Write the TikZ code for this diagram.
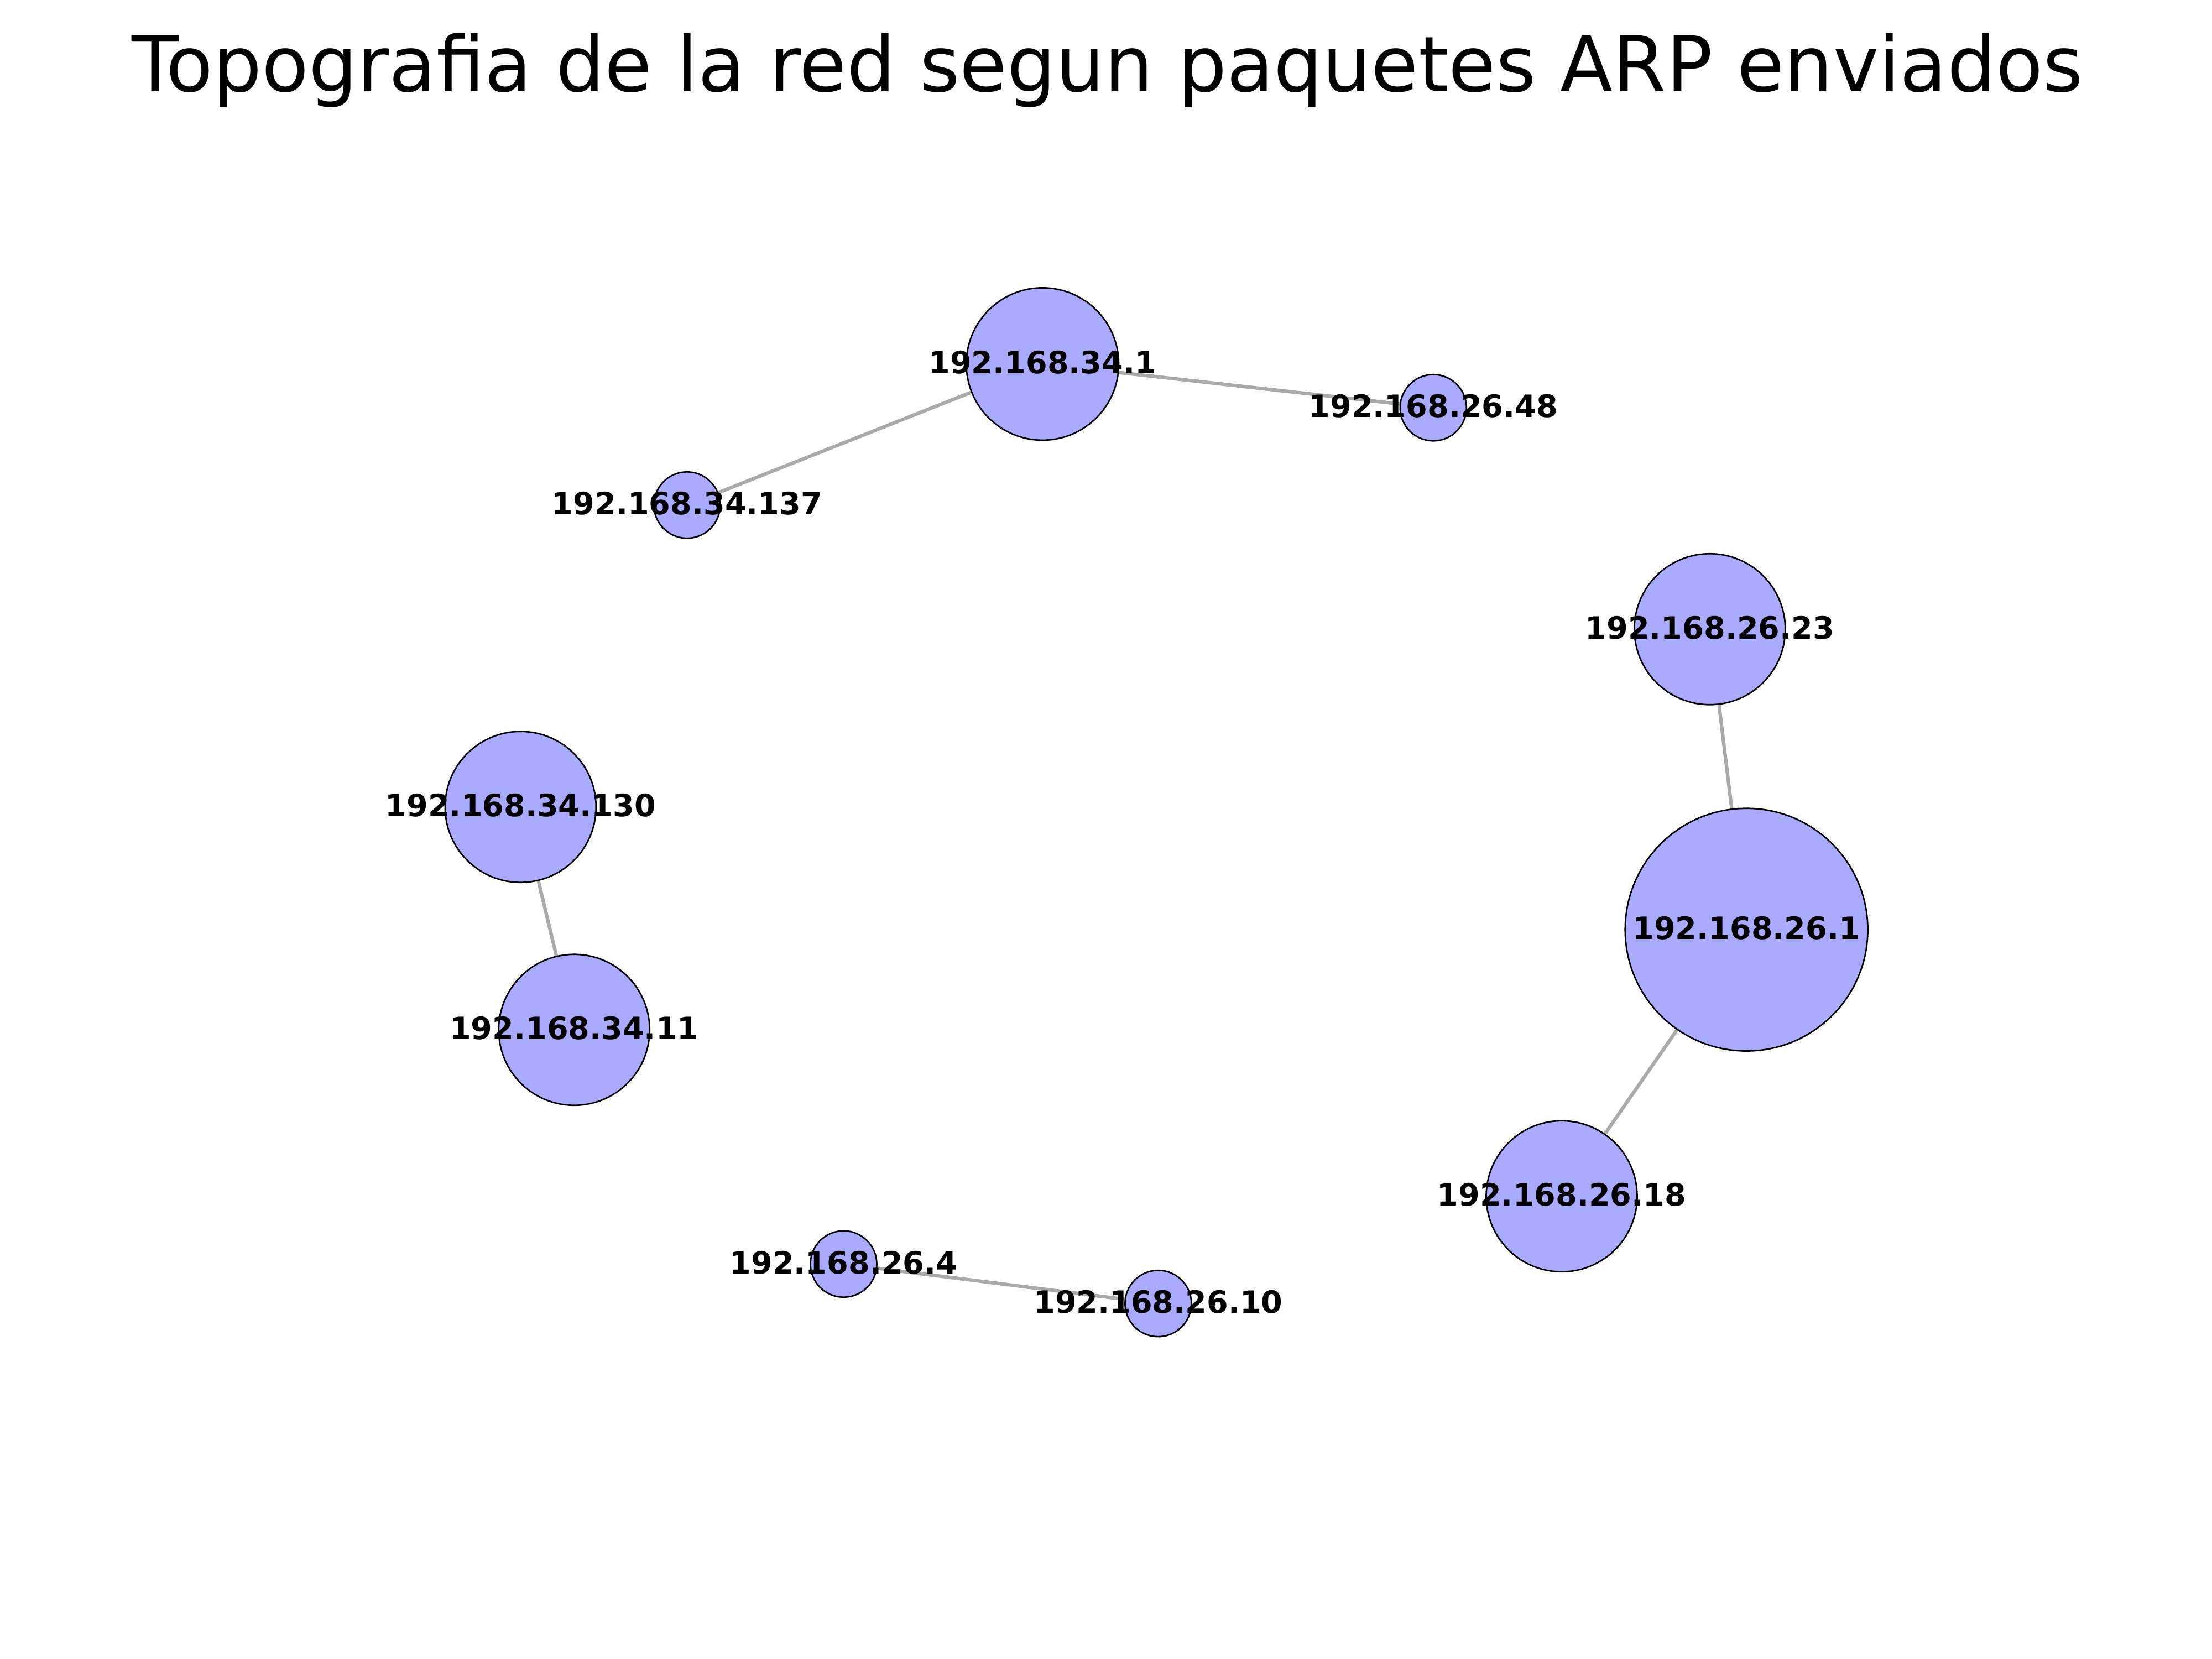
\documentclass[tikz,border=0pt]{standalone}
\usepackage{fontspec}
\setmainfont{DejaVu Sans}
\usetikzlibrary{positioning,backgrounds}
\definecolor{hostfill}{HTML}{AAAAFF}
\definecolor{linkgray}{HTML}{AAAAAA}

\begin{document}
\begin{tikzpicture}[x=0.1mm,y=-0.1mm,
    host/.style={circle,draw=black,line width=0.3pt,fill=hostfill,inner sep=0pt},
    iplabel/.style={inner sep=0pt,font=\fontsize{6.2}{7}\selectfont\bfseries},
    link/.style={draw=linkgray,line width=0.7pt}]
        \useasboundingbox (0,0) rectangle (1568,1176);
        \node[anchor=base,font=\fontsize{15.5}{18}\selectfont] (title) at (785,65)
            {Topografia de la red segun paquetes ARP enviados};
        \foreach \n/\x/\y/\d/\ip in {
            a/739/258/108/192.168.34.1,
            b/1016/289/47/192.168.26.48,
            c/487/358/47/192.168.34.137,
            d/1212/446/107/192.168.26.23,
            e/369/572/107/192.168.34.130,
            f/1238/659/172/192.168.26.1,
            g/407/730/107/192.168.34.11,
            h/1107/848/107/192.168.26.18,
            i/598/896/47/192.168.26.4,
            j/821/924/47/192.168.26.10} {
             \node[host,minimum size=\d*0.1mm] (\n) at (\x,\y) {};
             \node[iplabel] (\n-ip) at ([yshift=0.3pt]\n.center) {\ip};
        }
        \begin{scope}[on background layer]
            \foreach \u/\v in {a/b,a/c,d/f,f/h,e/g,i/j}
                \draw[link] (\u) -- (\v);
        \end{scope}
    \end{tikzpicture}
\end{document}
